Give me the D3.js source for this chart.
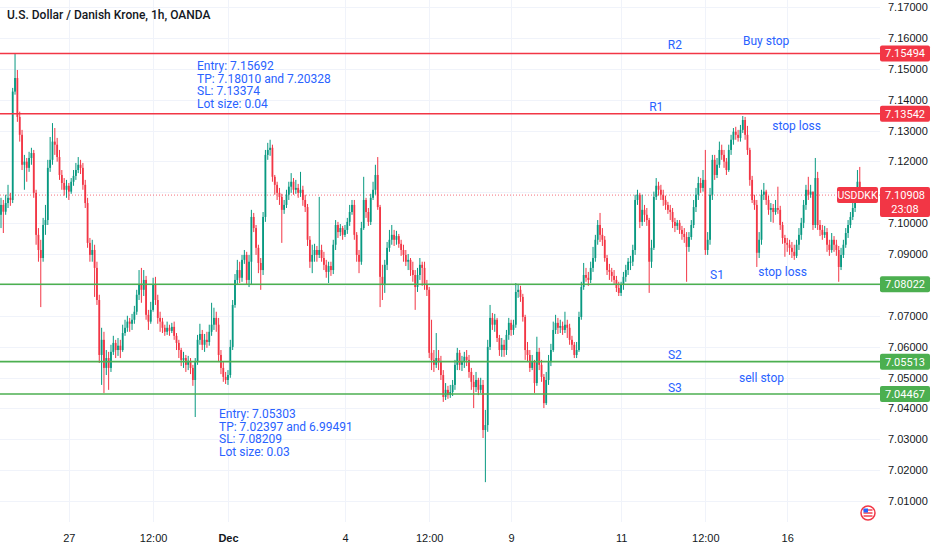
<!DOCTYPE html>
<html>
<head>
<meta charset="utf-8">
<script src="https://cdn.jsdelivr.net/npm/d3@7"></script>
<style>
  body { margin: 0; background: #fff; }
  svg { display: block; font-family: Roboto, "Noto Sans", sans-serif; }
</style>
</head>
<body>
<div id="chart"></div>
<script>
const WIDTH = 932, HEIGHT = 550;
const PLOT_RIGHT = 880, PLOT_BOTTOM = 522;

// hourly candles, prices in pips above 7.0000 (price = 7 + v / 10000)
// open of each bar = close of the bar before
const firstOpen = 1027;
const closes = [
  1059,1037,1065,1082,1075,1426,1470,1344,1286,1189,
  1199,1179,1211,1227,1098,962,913,887,994,1010,
  1179,1205,1264,1254,1214,1156,1130,1108,1121,1102,
  1134,1153,1172,1189,1179,1124,1065,936,897,913,
  855,751,573,622,531,563,531,583,612,589,
  603,589,644,661,681,674,687,713,768,800,
  784,816,703,681,719,800,751,693,681,661,
  648,661,651,664,635,612,589,557,563,541,
  554,531,492,550,622,641,606,622,615,648,
  671,693,671,573,531,502,492,508,599,735,
  816,848,823,881,897,816,875,1020,984,920,
  871,848,1020,1221,1237,1244,1150,1124,1098,1085,
  1043,1059,1092,1118,1134,1108,1114,1098,1108,1075,
  1052,946,875,897,913,897,913,887,865,842,
  861,848,930,994,971,984,962,978,1004,1036,
  1059,962,897,875,984,1075,1036,1004,1082,1108,
  1156,1052,826,800,865,920,946,962,946,958,
  933,913,897,875,881,848,832,793,832,865,
  855,800,784,580,557,541,563,550,508,437,
  460,443,453,476,541,580,541,550,567,557,
  518,486,469,492,460,476,330,346,599,693,
  671,687,628,589,606,589,638,677,654,671,
  777,784,761,696,589,573,531,550,482,583,
  541,502,417,492,550,589,654,677,661,667,
  654,671,661,622,606,573,589,696,793,832,
  823,816,855,887,946,994,962,946,887,848,
  842,829,816,790,774,800,826,848,875,875,
  913,1075,1092,1004,1043,1027,1010,875,920,1085,
  1121,1108,1092,1075,1059,1043,1036,1004,991,1001,
  978,965,955,923,955,994,1052,1092,1130,1114,
  1140,913,946,1092,1205,1156,1189,1237,1221,1199,
  1172,1237,1270,1296,1286,1276,1302,1334,1286,1237,
  1140,1075,1059,904,946,1092,1102,1075,1043,1049,
  1036,1049,1043,994,952,936,930,920,907,894,
  930,962,1001,1059,1108,1092,1102,994,1146,994,
  978,962,971,930,913,946,930,913,858,897,
  930,968,994,1020,1049,1082,1134,1090.8
];
const highs = [
  1082,1075,1092,1124,1098,1438,1551,1496,1361,1302,
  1221,1211,1231,1244,1237,1108,984,946,1017,1059,
  1205,1279,1324,1308,1276,1237,1172,1146,1140,1130,
  1146,1172,1195,1214,1205,1195,1140,1082,952,946,
  930,875,768,661,648,589,583,606,635,622,
  628,622,671,687,700,693,706,732,784,848,
  855,848,829,719,745,823,826,768,713,693,
  671,681,671,677,681,644,622,596,583,573,
  570,563,541,563,638,674,654,641,648,671,
  742,726,713,693,589,550,518,524,622,751,
  835,881,875,897,913,907,897,1043,1033,994,
  930,887,1036,1237,1260,1270,1254,1156,1134,1114,
  1095,1075,1108,1134,1162,1146,1140,1127,1166,1121,
  1092,1062,958,930,933,926,1085,930,907,881,
  875,875,946,1010,1004,997,991,994,1017,1059,
  1075,1075,971,913,1004,1150,1082,1049,1095,1134,
  1189,1214,1059,865,881,939,978,994,978,975,
  965,946,930,913,900,887,875,848,855,887,
  875,875,816,793,687,589,644,589,570,524,
  482,473,476,492,557,596,589,570,583,589,
  573,531,508,518,499,499,492,395,622,735,
  709,706,693,638,628,622,654,693,687,687,
  806,803,797,771,703,615,589,573,557,632,
  596,557,511,518,573,609,681,703,693,687,
  681,713,687,674,635,615,615,713,810,871,
  855,842,875,923,962,1010,1033,984,958,897,
  868,855,848,829,810,810,842,865,887,894,
  930,1092,1108,1098,1092,1059,1049,1017,946,1102,
  1146,1134,1124,1108,1089,1069,1059,1049,1017,1010,
  1010,991,984,971,971,1010,1075,1114,1150,1146,
  1172,1237,971,1114,1221,1221,1211,1264,1254,1237,
  1211,1254,1286,1308,1312,1302,1318,1347,1344,1315,
  1244,1153,1092,1075,971,1108,1130,1108,1089,1065,
  1062,1075,1118,1056,1004,962,952,946,939,930,
  946,984,1017,1075,1124,1150,1124,1102,1211,1166,
  1010,994,991,984,946,968,958,946,926,920,
  946,984,1010,1036,1069,1095,1172,1182
];
const lows = [
  984,968,1027,1049,1056,1065,1416,1328,1264,1172,
  1108,1134,1166,1189,1082,930,875,728,875,962,
  994,1166,1189,1221,1199,1140,1108,1089,1082,1075,
  1095,1121,1140,1162,1159,1108,1049,920,875,875,
  761,735,547,476,450,508,460,518,573,563,
  570,563,583,635,648,648,654,674,703,751,
  742,764,687,654,674,713,735,674,648,644,
  635,638,635,644,622,589,563,537,531,518,
  524,511,473,372,541,606,589,583,596,603,
  635,654,648,550,511,486,479,476,499,589,
  726,800,806,810,868,800,793,800,971,897,
  838,784,832,1004,1205,1218,1134,1092,1075,1059,
  936,1030,1049,1075,1098,1092,1095,1082,1085,1056,
  1036,926,855,838,875,875,887,875,848,823,
  806,829,835,913,952,958,946,955,965,991,
  1027,946,875,838,865,978,1017,991,994,1075,
  1092,1043,728,751,774,848,907,930,926,930,
  920,894,875,861,848,829,810,719,777,816,
  797,784,764,563,524,518,531,524,492,421,
  427,431,434,440,460,524,524,521,531,537,
  499,460,401,453,443,450,304,161,324,589,
  654,648,615,570,567,567,573,622,635,638,
  661,758,745,681,557,550,518,524,450,473,
  524,486,401,411,476,537,583,641,641,644,
  638,644,628,606,589,563,563,583,687,784,
  810,797,806,842,875,930,939,926,875,832,
  816,810,803,777,764,764,784,810,832,848,
  861,897,1059,984,991,1004,991,774,855,913,
  1075,1089,1075,1056,1043,1030,1010,984,971,978,
  965,946,936,810,907,946,984,1036,1075,1098,
  1102,897,897,930,1075,1140,1146,1179,1205,1179,
  1156,1166,1221,1254,1270,1264,1264,1292,1270,1221,
  1121,1065,1043,858,887,930,1075,1059,1027,1004,
  1001,1027,1030,978,933,891,907,897,887,881,
  887,913,946,984,1043,1075,1082,978,984,978,
  958,946,952,907,894,904,907,894,810,848,
  887,920,952,984,1010,1036,1075,1075
];

const priceTicks = [7.01,7.02,7.03,7.04,7.05,7.06,7.07,7.08,7.09,7.10,7.11,7.12,7.13,7.14,7.15,7.16,7.17];
const timeTickBars = [29, 65, 97, 147, 183, 218, 265, 301, 336];
const timeTickLabels = ["27", "12:00", "Dec", "4", "12:00", "9", "11", "12:00", "16"];

const levelNames = ["R2", "R1", "S1", "S2", "S3"];
const levelPrices = [7.15494, 7.13542, 7.08022, 7.05513, 7.04467];

const buyNote = ["Entry: 7.15692", "TP: 7.18010 and 7.20328", "SL: 7.13374", "Lot size: 0.04"];
const sellNote = ["Entry: 7.05303", "TP: 7.02397 and 6.99491", "SL: 7.08209", "Lot size: 0.03"];

const UP = "#089981", DOWN = "#f23645", SUP = "#4caf50", BLUE = "#2962ff", TXT = "#131722";

const toPrice = v => 7 + v / 10000;
const bars = closes.map((c, i) => {
  const o = i === 0 ? firstOpen : closes[i - 1];
  return {
    i: i,
    o: toPrice(o),
    c: toPrice(c),
    h: toPrice(Math.max(highs[i], o, c)),
    l: toPrice(Math.min(lows[i], o, c))
  };
});
const last = bars[bars.length - 1];

const x = d3.scaleLinear().domain([0, bars.length - 1]).range([1, 1 + 2.34 * (bars.length - 1)]);
const y = d3.scaleLinear().domain([7.01, 7.17]).range([501, 7]);

const svg = d3.select("#chart").append("svg")
  .attr("width", WIDTH).attr("height", HEIGHT);

svg.append("rect").attr("width", WIDTH).attr("height", HEIGHT).attr("fill", "#fff");

// grid
svg.append("g").selectAll("line").data(priceTicks).enter().append("line")
  .attr("x1", 0).attr("x2", PLOT_RIGHT)
  .attr("y1", d => Math.round(y(d)) + 0.5).attr("y2", d => Math.round(y(d)) + 0.5)
  .attr("stroke", "#f0f3fa");
svg.append("g").selectAll("line").data(timeTickBars).enter().append("line")
  .attr("x1", d => Math.round(x(d)) + 0.5).attr("x2", d => Math.round(x(d)) + 0.5)
  .attr("y1", 0).attr("y2", PLOT_BOTTOM)
  .attr("stroke", "#f0f3fa");

// price axis: labels that would sit under a price tag are hidden, as on the original
const ly = y(last.c);
const shownTicks = priceTicks.filter(t => {
  const ty = y(t);
  const nearLevel = levelPrices.some(p => Math.abs(y(p) - ty) < 10);
  const underLast = ty > ly - 14 && ty < ly + 28;
  return !nearLevel && !underLast;
});
const yAxis = svg.append("g")
  .attr("transform", "translate(" + PLOT_RIGHT + ",0)")
  .call(d3.axisRight(y).tickValues(shownTicks).tickFormat(d3.format(".5f")).tickSize(0).tickPadding(8));
yAxis.select(".domain").remove();
yAxis.selectAll("text").attr("fill", TXT).style("font-size", "11px");

// time axis
const xAxis = svg.append("g")
  .attr("transform", "translate(0," + PLOT_BOTTOM + ")")
  .call(d3.axisBottom(x).tickValues(timeTickBars).tickFormat((d, k) => timeTickLabels[k]).tickSize(0).tickPadding(12));
xAxis.select(".domain").remove();
xAxis.selectAll("text").attr("fill", TXT).style("font-size", "11px")
  .style("font-weight", (d, k) => timeTickLabels[k] === "Dec" ? "700" : "400");

// current price dotted line
svg.append("line")
  .attr("x1", 0).attr("x2", PLOT_RIGHT)
  .attr("y1", ly).attr("y2", ly)
  .attr("stroke", DOWN).attr("stroke-width", 1).attr("stroke-dasharray", "1,2").attr("opacity", 0.7);

// candles
const candles = svg.append("g").selectAll("g").data(bars).enter().append("g");
candles.append("line")
  .attr("x1", d => x(d.i)).attr("x2", d => x(d.i))
  .attr("y1", d => y(d.h)).attr("y2", d => y(d.l))
  .attr("stroke", d => d.c >= d.o ? UP : DOWN).attr("stroke-width", 1);
candles.append("rect")
  .attr("x", d => x(d.i) - 0.9).attr("width", 1.8)
  .attr("y", d => y(Math.max(d.o, d.c)))
  .attr("height", d => Math.max(1, Math.abs(y(d.o) - y(d.c))))
  .attr("fill", d => d.c >= d.o ? UP : DOWN);

// support / resistance lines
const levels = levelNames.map((n, k) => ({ name: n, price: levelPrices[k], color: n[0] === "R" ? DOWN : SUP }));
svg.append("g").selectAll("line").data(levels).enter().append("line")
  .attr("x1", 0).attr("x2", PLOT_RIGHT)
  .attr("y1", d => y(d.price)).attr("y2", d => y(d.price))
  .attr("stroke", d => d.color).attr("stroke-width", 1.6);

const tags = svg.append("g").selectAll("g").data(levels).enter().append("g")
  .attr("transform", d => "translate(" + PLOT_RIGHT + "," + y(d.price) + ")");
tags.append("rect").attr("x", 0).attr("y", -8).attr("width", 50).attr("height", 16).attr("rx", 2)
  .attr("fill", d => d.color);
tags.append("text").attr("x", 25).attr("dy", "0.35em").attr("text-anchor", "middle")
  .attr("fill", "#fff").style("font-size", "11px")
  .text(d => d3.format(".5f")(d.price));

// last price tags
svg.append("rect").attr("x", 837).attr("y", ly - 8).attr("width", 41).attr("height", 16).attr("rx", 2).attr("fill", DOWN);
svg.append("text").attr("x", 857.5).attr("y", ly).attr("dy", "0.35em").attr("text-anchor", "middle")
  .attr("fill", "#fff").style("font-size", "10.5px").text("USDDKK");
svg.append("rect").attr("x", PLOT_RIGHT).attr("y", ly - 8).attr("width", 50).attr("height", 30).attr("rx", 2).attr("fill", DOWN);
svg.append("text").attr("x", PLOT_RIGHT + 25).attr("y", ly).attr("dy", "0.35em").attr("text-anchor", "middle")
  .attr("fill", "#fff").style("font-size", "11px").text(d3.format(".5f")(last.c));
svg.append("text").attr("x", PLOT_RIGHT + 25).attr("y", ly + 14).attr("dy", "0.35em").attr("text-anchor", "middle")
  .attr("fill", "#fff").style("font-size", "11px").text("23:08");

// level annotations
const notes = [
  { t: "R2", bar: 288, p: 7.15494, dy: -4 },
  { t: "Buy stop", bar: 327, p: 7.15494, dy: -8 },
  { t: "R1", bar: 280, p: 7.13542, dy: -3 },
  { t: "stop loss", bar: 340, p: 7.13542, dy: 16 },
  { t: "S1", bar: 306, p: 7.08022, dy: -5 },
  { t: "stop loss", bar: 334, p: 7.08022, dy: -8 },
  { t: "S2", bar: 288, p: 7.05513, dy: -3 },
  { t: "sell stop", bar: 325, p: 7.05513, dy: 20 },
  { t: "S3", bar: 288, p: 7.04467, dy: -2 }
];
svg.append("g").selectAll("text").data(notes).enter().append("text")
  .attr("x", d => x(d.bar)).attr("y", d => y(d.p) + d.dy)
  .attr("text-anchor", "middle").attr("fill", BLUE).style("font-size", "12px")
  .text(d => d.t);

function noteBlock(lines, left, top) {
  svg.append("g").selectAll("text").data(lines).enter().append("text")
    .attr("x", left).attr("y", (d, k) => top + k * 12.5)
    .attr("fill", BLUE).style("font-size", "12px")
    .text(d => d);
}
noteBlock(buyNote, 197, 70);
noteBlock(sellNote, 219, 418);

// title
svg.append("text").attr("x", 7).attr("y", 19).attr("fill", TXT)
  .style("font-size", "12px").style("font-weight", "500")
  .text("U.S. Dollar / Danish Krone, 1h, OANDA");

// small flag badge
const flag = svg.append("g").attr("transform", "translate(868,513)");
flag.append("circle").attr("r", 7).attr("fill", "#fff").attr("stroke", DOWN).attr("stroke-width", 1.5);
[-3, 0, 3].forEach(s => flag.append("rect").attr("x", -4.5).attr("y", s - 0.7).attr("width", 9).attr("height", 1.4).attr("fill", DOWN));
flag.append("rect").attr("x", -4.5).attr("y", -4.5).attr("width", 4.5).attr("height", 4).attr("fill", "#2962ff");
</script>
</body>
</html>
